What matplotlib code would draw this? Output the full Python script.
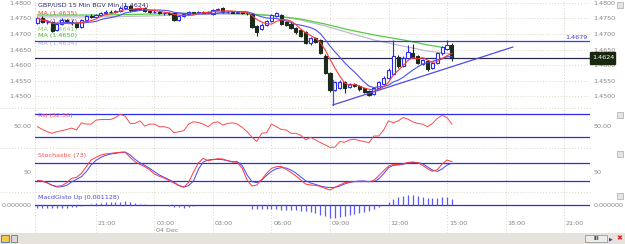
import numpy as np
import pandas as pd
import matplotlib
matplotlib.use("Agg")
import matplotlib.pyplot as plt
from matplotlib.patches import Rectangle
from matplotlib.transforms import blended_transform_factory, ScaledTranslation

# ---- data: GBP/USD 15 min bars, bar 0 = 18:00 on 03 Dec ----
opens = [1.4735, 1.4753, 1.4737, 1.4740, 1.4713, 1.4733, 1.4745, 1.4740, 1.4735, 1.4722,
         1.4745, 1.4758, 1.4755, 1.4760, 1.4768, 1.4772, 1.4770, 1.4774, 1.4785, 1.4790,
         1.4776, 1.4779, 1.4784, 1.4775, 1.4770, 1.4772, 1.4766, 1.4768, 1.4766, 1.4745,
         1.4757, 1.4763, 1.4770, 1.4768, 1.4771, 1.4769, 1.4765, 1.4778, 1.4782, 1.4770,
         1.4772, 1.4769, 1.4771, 1.4768, 1.4765, 1.4725, 1.4716, 1.4728, 1.4742, 1.4758,
         1.4760, 1.4738, 1.4733, 1.4720, 1.4712, 1.4706, 1.4671, 1.4687, 1.4680, 1.4630,
         1.4575, 1.4520, 1.4526, 1.4546, 1.4530, 1.4538, 1.4532, 1.4525, 1.4518, 1.4508,
         1.4526, 1.4540, 1.4558, 1.4572, 1.4626, 1.4597, 1.4622, 1.4640, 1.4628, 1.4603,
         1.4614, 1.4590, 1.4606, 1.4638, 1.4651, 1.4665]
highs = [1.4755, 1.4757, 1.4745, 1.4742, 1.4737, 1.4750, 1.4748, 1.4744, 1.4740, 1.4748,
         1.4761, 1.4763, 1.4764, 1.4772, 1.4776, 1.4777, 1.4778, 1.4790, 1.4795, 1.4794,
         1.4783, 1.4786, 1.4788, 1.4778, 1.4776, 1.4775, 1.4771, 1.4770, 1.4768, 1.4760,
         1.4766, 1.4773, 1.4772, 1.4774, 1.4774, 1.4775, 1.4781, 1.4784, 1.4786, 1.4775,
         1.4774, 1.4774, 1.4773, 1.4771, 1.4768, 1.4728, 1.4734, 1.4745, 1.4763, 1.4770,
         1.4763, 1.4742, 1.4737, 1.4724, 1.4715, 1.4710, 1.4690, 1.4690, 1.4683, 1.4635,
         1.4578, 1.4549, 1.4552, 1.4550, 1.4542, 1.4541, 1.4536, 1.4528, 1.4521, 1.4531,
         1.4549, 1.4564, 1.4590, 1.4681, 1.4632, 1.4628, 1.4665, 1.4668, 1.4631, 1.4621,
         1.4617, 1.4610, 1.4642, 1.4661, 1.4681, 1.4672]
lows = [1.4733, 1.4735, 1.4733, 1.4707, 1.4710, 1.4730, 1.4735, 1.4730, 1.4718, 1.4720,
        1.4742, 1.4750, 1.4752, 1.4757, 1.4764, 1.4766, 1.4767, 1.4771, 1.4781, 1.4772,
        1.4773, 1.4776, 1.4772, 1.4766, 1.4767, 1.4763, 1.4762, 1.4760, 1.4741, 1.4742,
        1.4754, 1.4760, 1.4764, 1.4765, 1.4766, 1.4767, 1.4762, 1.4775, 1.4767, 1.4767,
        1.4766, 1.4766, 1.4764, 1.4762, 1.4719, 1.4693, 1.4712, 1.4725, 1.4740, 1.4754,
        1.4728, 1.4726, 1.4715, 1.4701, 1.4690, 1.4668, 1.4664, 1.4670, 1.4635, 1.4570,
        1.4515, 1.4516, 1.4522, 1.4510, 1.4526, 1.4529, 1.4518, 1.4510, 1.4500, 1.4504,
        1.4523, 1.4536, 1.4555, 1.4568, 1.4592, 1.4594, 1.4619, 1.4623, 1.4604, 1.4599,
        1.4580, 1.4587, 1.4603, 1.4634, 1.4648, 1.4612]
closes = [1.4751, 1.4737, 1.4740, 1.4711, 1.4733, 1.4745, 1.4740, 1.4735, 1.4722, 1.4745,
          1.4758, 1.4755, 1.4760, 1.4768, 1.4772, 1.4770, 1.4774, 1.4785, 1.4790, 1.4776,
          1.4779, 1.4782, 1.4775, 1.4770, 1.4772, 1.4766, 1.4768, 1.4765, 1.4745, 1.4757,
          1.4763, 1.4770, 1.4768, 1.4771, 1.4769, 1.4772, 1.4778, 1.4780, 1.4770, 1.4772,
          1.4769, 1.4771, 1.4768, 1.4766, 1.4722, 1.4705, 1.4730, 1.4742, 1.4760, 1.4766,
          1.4731, 1.4730, 1.4719, 1.4705, 1.4695, 1.4671, 1.4687, 1.4674, 1.4638, 1.4575,
          1.4520, 1.4546, 1.4546, 1.4526, 1.4538, 1.4533, 1.4522, 1.4514, 1.4505, 1.4528,
          1.4545, 1.4560, 1.4585, 1.4628, 1.4597, 1.4624, 1.4642, 1.4627, 1.4608, 1.4618,
          1.4586, 1.4606, 1.4638, 1.4657, 1.4665, 1.4624]

# long moving averages (bar index, price)
ma_long_bars = [0, 13, 23, 34, 44, 49, 54, 59, 64, 69, 75, 80, 85]
ma_green = [1.4761, 1.4761, 1.4764, 1.4768, 1.4764, 1.4758, 1.4748, 1.4732, 1.4713, 1.4697, 1.4681, 1.4665, 1.4652]
ma_gray = [1.4755, 1.4755, 1.4758, 1.4764, 1.4764, 1.4758, 1.4745, 1.4726, 1.4703, 1.4681, 1.4661, 1.4645, 1.4636]

rsi = [48.0, 43.3, 39.3, 36.4, 39.3, 41.0, 43.3, 45.6, 42.2, 54.9,
       52.6, 52.6, 59.6, 60.7, 60.7, 60.7, 64.2, 70.0, 66.5, 53.8,
       53.8, 58.4, 49.1, 52.6, 52.6, 48.0, 48.0, 45.6, 37.5, 39.3,
       41.0, 52.6, 56.7, 55.5, 52.6, 48.0, 54.9, 56.7, 50.9, 53.8,
       54.9, 52.6, 46.8, 39.3, 29.4, 21.9, 36.4, 37.5, 52.6, 48.0,
       43.3, 42.2, 36.4, 36.4, 32.9, 24.8, 29.4, 24.8, 20.1, 16.1,
       11.5, 12.0, 21.9, 20.7, 24.8, 26.0, 23.6, 21.9, 20.1, 31.7,
       31.7, 42.2, 58.4, 54.9, 58.4, 64.2, 61.3, 56.7, 53.8, 52.6,
       48.0, 53.8, 62.5, 68.3, 64.2, 52.6]

stoch_k = [30.8, 29.3, 24.7, 19.3, 17.0, 18.6, 25.5, 35.4, 37.7, 46.9,
           62.2, 77.6, 83.7, 89.1, 91.4, 92.9, 94.4, 95.2, 95.2, 83.7,
           73.7, 67.6, 62.2, 55.3, 45.4, 40.0, 36.2, 30.1, 24.7, 18.6,
           14.7, 26.2, 50.0, 70.7, 81.4, 76.0, 78.3, 80.6, 79.9, 76.0,
           73.0, 72.2, 58.4, 31.6, 17.8, 20.1, 33.1, 46.9, 58.4, 62.2,
           63.0, 56.1, 49.2, 40.8, 31.6, 22.4, 20.1, 19.3, 17.0, 12.4,
           8.6, 14.7, 20.1, 25.5, 27.0, 27.8, 27.8, 27.8, 27.8, 30.8,
           41.5, 53.0, 63.8, 67.6, 66.8, 69.1, 72.2, 73.0, 71.4, 65.3,
           57.6, 51.5, 55.3, 68.4, 77.6, 73.7]
stoch_d = [30.1, 28.5, 25.5, 19.3, 15.5, 16.3, 19.3, 27.0, 33.1, 39.2,
           50.7, 66.1, 76.8, 83.7, 88.3, 91.4, 92.9, 95.2, 96.0, 89.1,
           79.1, 71.4, 65.3, 58.4, 50.7, 43.1, 37.7, 32.4, 26.2, 19.3,
           15.5, 18.6, 29.3, 56.1, 73.0, 77.6, 79.1, 79.1, 78.3, 76.0,
           73.7, 73.7, 64.5, 43.1, 27.8, 25.5, 31.6, 42.3, 51.5, 57.6,
           59.9, 59.2, 54.6, 47.7, 38.5, 30.1, 24.7, 21.6, 17.8, 15.5,
           14.0, 14.7, 17.8, 22.4, 26.2, 27.8, 29.3, 29.3, 27.8, 27.8,
           33.9, 46.2, 59.9, 65.3, 66.1, 67.6, 70.7, 72.2, 71.4, 69.1,
           61.5, 54.6, 51.5, 56.9, 66.1, 69.9]

macd_hist = [-0.00045, -0.00045, -0.0005, -0.0005, -0.0005, -0.00045, -0.0004, -0.00034, -0.00028, -0.00006,
             0.00011, 0.00022, 0.00039, 0.00045, 0.0005, 0.0005, 0.00056, 0.00062, 0.00073, 0.00056,
             0.00039, 0.00028, 0.00017, 0.00006, 0.00002, 0.00001, 0.00001, -0.00017, -0.00028, -0.00034,
             -0.0004, -0.00022, -0.00006, 0.00001, 0.00001, 0.00002, 0.00001, 0.00001, 0.00002, 0.00001,
             0.00001, 0.00002, 0.00001, -0.00002, -0.00056, -0.0006, -0.0006, -0.0006, -0.0006, -0.00067,
             -0.00073, -0.00078, -0.00078, -0.00084, -0.0009, -0.00095, -0.00106, -0.00123, -0.00157, -0.00185,
             -0.00218, -0.00218, -0.0019, -0.00179, -0.00162, -0.00146, -0.00123, -0.00106, -0.0009, -0.00067,
             -0.00034, 0.00002, 0.00056, 0.00112, 0.00134, 0.00151, 0.00168, 0.00174, 0.00162, 0.0014,
             0.00123, 0.00118, 0.00123, 0.00134, 0.00134, 0.001128]

time_tick_bars = [12, 24, 36, 48, 60, 72, 84, 96, 108]
time_tick_labels = ["21:00", "00:00", "03:00", "06:00", "09:00", "12:00", "15:00", "18:00", "21:00"]
price_ticks = [1.4500, 1.4550, 1.4600, 1.4650, 1.4700, 1.4750, 1.4800]

resistance = 1.4679
last_price = 1.4624
trend_bars = [60.6, 97.5]
trend_prices = [1.4472, 1.4658]
trend_base = 1.4552

# ---- figure layout in pixels ----
W, H = 625, 244
FS = 4.6
GRAY = "#858585"
BLUE = "#2b2bf0"
DARK = "#1d2b1a"
GRID = "#ddd5c6"
XLIM = (-0.51, 113.33)

plt.rcParams["font.family"] = ["DejaVu Sans"]
fig = plt.figure(figsize=(W / 100, H / 100), dpi=100)
fig.patch.set_facecolor("white")


def box(x0, y0, x1, y1):
    return [x0 / W, 1 - y1 / H, (x1 - x0) / W, (y1 - y0) / H]


def style(ax, ylim, yticks, ylabels):
    ax.set_xlim(*XLIM)
    ax.set_ylim(*ylim)
    ax.set_facecolor("none")
    for s in ax.spines.values():
        s.set_visible(False)
    ax.set_xticks([])
    ax.set_yticks(yticks)
    ax.set_yticklabels(ylabels)
    ax.tick_params(axis="y", length=0, labelleft=True, labelright=True,
                   labelsize=FS, labelcolor=GRAY, pad=2.5)


# background grid axes (vertical dotted time lines)
ax_bg = fig.add_axes(box(35, 0, 590, 233), zorder=-1)
ax_bg.set_xlim(*XLIM)
ax_bg.set_ylim(0, 1)
ax_bg.axis("off")
for b in time_tick_bars:
    ax_bg.axvline(b, color=GRID, lw=0.7, ls=(0, (1, 2)))
ax_bg.axvline(XLIM[0] + 0.05, color=GRID, lw=0.7, ls=(0, (1, 2)))
ax_bg.axvline(XLIM[1] - 0.05, color=GRID, lw=0.7, ls=(0, (1, 2)))

# panel separators
for yy in [108, 148, 192]:
    fig.add_artist(plt.Line2D([0, 590 / W], [1 - yy / H] * 2, color=GRID, lw=0.7, ls=(0, (1, 2))))

# ---- main price panel ----
ax = fig.add_axes(box(35, 0, 590, 108))
style(ax, (1.44621, 1.48093), price_ticks, ["%.4f" % p for p in price_ticks])
for p in price_ticks:
    ax.axhline(p, color=GRID, lw=0.7, ls=(0, (1, 2)), zorder=0)

o = np.array(opens)
c = np.array(closes)
hi = np.array(highs)
lo = np.array(lows)
idx = np.arange(len(c))
up = c >= o
body_lo = np.minimum(o, c)
body_h = np.maximum(np.abs(c - o), 0.00008)

ax.vlines(idx[up], lo[up], hi[up], color=BLUE, lw=0.8, zorder=3)
ax.vlines(idx[~up], lo[~up], hi[~up], color=DARK, lw=0.8, zorder=3)
ax.bar(idx[up], body_h[up], bottom=body_lo[up], width=0.62, facecolor="white",
       edgecolor=BLUE, lw=0.8, zorder=4)
ax.bar(idx[~up], body_h[~up], bottom=body_lo[~up], width=0.62, facecolor=DARK,
       edgecolor=DARK, lw=0.8, zorder=4)

close_s = pd.Series(closes)
ma_fast = close_s.rolling(5, min_periods=1).mean()
ma_mid = close_s.rolling(10, min_periods=1).mean()
ax.plot(ma_long_bars, ma_gray, color="#bdbccc", lw=0.9, zorder=2)
ax.plot(ma_long_bars, ma_green, color="#55cc44", lw=0.9, zorder=2)
ax.plot(idx, ma_mid, color="#5050ee", lw=0.8, zorder=5)
ax.plot(idx, ma_fast, color="#ff3a3a", lw=0.8, zorder=5)

ax.axhline(resistance, color="#3a3ae0", lw=0.9, zorder=2)
ax.axhline(last_price, color="#2a2a4a", lw=0.9, zorder=2)
ax.plot(trend_bars, trend_prices, color="#4b4bec", lw=0.9, zorder=6)
ax.plot([trend_bars[0]] * 2, [trend_prices[0], trend_base], color="#4b4bec", lw=0.9, zorder=6)

tr = blended_transform_factory(ax.transAxes, ax.transData)
ax.text(0.995, resistance + 0.0002, "%.4f" % resistance, transform=tr, ha="right", va="bottom",
        fontsize=FS, color="#3a3ae0", zorder=7)
ax.add_patch(Rectangle((1.0, last_price - 0.0019), 25 / 555, 0.0036, transform=tr,
                       facecolor="#18280f", edgecolor="#18280f", clip_on=False, zorder=8))
ax.text(1.0 + 2.5 / 555, last_price - 0.0001, "%.4f" % last_price, transform=tr, ha="left",
        va="center", fontsize=FS, color="white", zorder=9, clip_on=False)

legend_rows = [("GBP/USD 15 Min BGV Min (1.4624)", "#2a2a6a", 5),
               ("MA (1.4635)", "#ff3a3a", 13),
               ("MA (1.4637)", "#5050ee", 21),
               ("MA (1.4641)", "#8ccf70", 29),
               ("MA (1.4650)", "#44bb33", 36),
               ("MA (1.4634)", "#b3b2c6", 44)]
for txt, col, yy in legend_rows:
    ax.text(3 / 555, 1 - yy / 108, txt, transform=ax.transAxes, fontsize=FS, color=col,
            va="center", ha="left", zorder=1)

# ---- RSI panel ----
ax_r = fig.add_axes(box(35, 108, 590, 148))
style(ax_r, (10.5, 81.0), [50], ["50.00"])
ax_r.axhline(70, color=BLUE, lw=0.9)
ax_r.axhline(30, color=BLUE, lw=0.9)
ax_r.plot(idx, rsi, color="#ff4a4a", lw=0.7)
ax_r.text(3 / 555, 1 - 7 / 40, "Rsi (52.56)", transform=ax_r.transAxes, fontsize=FS,
          color="#ff4a4a", va="center")

# ---- Stochastic panel ----
ax_s = fig.add_axes(box(35, 148, 590, 192))
style(ax_s, (4.0, 105.2), [50], ["50"])
ax_s.axhline(70, color=BLUE, lw=0.9)
ax_s.axhline(30, color=BLUE, lw=0.9)
ax_s.plot(idx, stoch_d, color="#4444ff", lw=0.7)
ax_s.plot(idx, stoch_k, color="#ff3838", lw=0.7)
ax_s.text(3 / 555, 1 - 7 / 44, "Stochastic (73)", transform=ax_s.transAxes, fontsize=FS,
          color="#ff4a4a", va="center")

# ---- MACD histogram panel ----
ax_m = fig.add_axes(box(35, 192, 590, 219))
style(ax_m, (-0.0023, 0.00223), [0], ["0.000000"])
ax_m.axhline(0, color=BLUE, lw=0.9)
ax_m.vlines(idx, 0, macd_hist, color="#5a5aff", lw=0.9)
ax_m.text(3 / 555, 1 - 5 / 27, "MacdGisto Up (0.001128)", transform=ax_m.transAxes,
          fontsize=FS, color="#4a4ae0", va="center")

# time axis labels, left aligned at the grid lines
ax_m.set_xticks(time_tick_bars)
ax_m.set_xticklabels(time_tick_labels)
ax_m.tick_params(axis="x", length=0, labelsize=FS, labelcolor=GRAY, pad=1.5)
shift = ScaledTranslation(2 / 100, 0, fig.dpi_scale_trans)
for lab in ax_m.get_xticklabels():
    lab.set_ha("left")
    lab.set_transform(lab.get_transform() + shift)
fig.text((37.5 + 4.875 * 24 + 2) / W, 1 - 231 / H, "04 Dec", fontsize=FS, color=GRAY,
         ha="left", va="center")

# small panel icons on the right
for yy in [2, 112, 151, 193]:
    fig.add_artist(Rectangle(((617) / W, 1 - (yy + 6) / H), 6 / W, 6 / H, facecolor="#e4e4e4",
                             edgecolor="#a8a8a8", lw=0.5))

# bottom status strip
fig.add_artist(Rectangle((0, 0), 1, 11 / H, facecolor="#e7e3dc", edgecolor="none"))
fig.add_artist(Rectangle((1 / W, 2 / H), 8 / W, 7 / H, facecolor="#f2c94c", edgecolor="#3a6fd0", lw=0.6))
fig.add_artist(Rectangle((11 / W, 2 / H), 6 / W, 7 / H, facecolor="#d8d8d8", edgecolor="#606060", lw=0.5))
fig.add_artist(Rectangle((585 / W, 2 / H), 22 / W, 7 / H, facecolor="#ececec", edgecolor="#8a8a8a", lw=0.5))
fig.text(596 / W, 5.5 / H, "III", fontsize=3.5, color="#333333", ha="center", va="center", weight="bold")
fig.text(611 / W, 5.5 / H, "\u25b6", fontsize=3.5, color="#3a4a9a", ha="center", va="center")
fig.text(619 / W, 5.5 / H, "\u2716", fontsize=5, color="#e02020", ha="center", va="center")

fig.savefig("out.png", dpi=100, facecolor="white")
